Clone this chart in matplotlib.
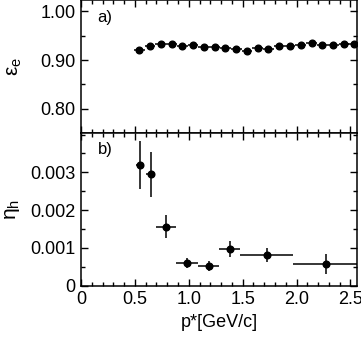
import matplotlib
matplotlib.use("Agg")
import matplotlib.pyplot as plt
from matplotlib.ticker import MultipleLocator, FixedLocator, FuncFormatter

plt.rcParams["font.family"] = ["Liberation Sans", "DejaVu Sans"]
plt.rcParams["font.size"] = 13
plt.rcParams["mathtext.fontset"] = "custom"
plt.rcParams["mathtext.rm"] = "Liberation Sans"
plt.rcParams["mathtext.it"] = "Liberation Sans"

# a) electron efficiency vs p*
p_eff = [0.54, 0.64, 0.74, 0.84, 0.94, 1.04, 1.14, 1.24, 1.34, 1.44, 1.54,
         1.64, 1.74, 1.84, 1.94, 2.04, 2.14, 2.24, 2.34, 2.44, 2.53]
eff = [0.921, 0.929, 0.932, 0.932, 0.928, 0.931, 0.926, 0.926, 0.924, 0.922, 0.919,
       0.924, 0.922, 0.928, 0.928, 0.931, 0.935, 0.931, 0.930, 0.934, 0.932]
eff_xerr = 0.05
eff_yerr = 0.002

# b) hadron misid rate vs p*
p_mis = [0.545, 0.645, 0.79, 0.985, 1.185, 1.38, 1.73, 2.27]
p_lo = [0.51, 0.60, 0.70, 0.885, 1.09, 1.28, 1.48, 1.97]
p_hi = [0.58, 0.69, 0.885, 1.09, 1.28, 1.48, 1.97, 2.60]
mis = [0.00319, 0.00295, 0.00156, 0.00059, 0.00053, 0.00097, 0.00082, 0.00057]
mis_lo = [0.00255, 0.00235, 0.00127, 0.00046, 0.00040, 0.00075, 0.00062, 0.00030]
mis_hi = [0.00382, 0.00353, 0.00186, 0.00072, 0.00066, 0.00118, 0.00101, 0.00083]

eff_ticks = [0.80, 0.90, 1.00]
mis_ticks = [0, 0.001, 0.002, 0.003]
p_ticks = [0, 0.5, 1.0, 1.5, 2.0, 2.5]

fig = plt.figure(figsize=(3.61, 3.46), dpi=100)
ax1 = fig.add_axes([0.2244, 0.6156, 0.7656, 0.3830])
ax2 = fig.add_axes([0.2244, 0.1743, 0.7656, 0.4413])

ax1.errorbar(p_eff, eff, xerr=eff_xerr, yerr=eff_yerr, fmt="o", color="black",
             ms=4.8, elinewidth=1.1, capsize=0)
ax1.set_xlim(0, 2.565)
ax1.set_ylim(0.75, 1.0225)
ax1.yaxis.set_major_locator(FixedLocator(eff_ticks))
ax1.yaxis.set_minor_locator(MultipleLocator(0.05))
ax1.yaxis.set_major_formatter(FuncFormatter(lambda v, pos: "%.2f" % v))
ax1.set_ylabel(r"$\mathrm{\varepsilon_e}$", fontsize=15, labelpad=12)
ax1.text(0.06, 0.84, "a)", transform=ax1.transAxes, fontsize=12)
ax1.tick_params(labelbottom=False)

xerr_lo = [m - l for m, l in zip(p_mis, p_lo)]
xerr_hi = [h - m for m, h in zip(p_mis, p_hi)]
yerr_lo = [m - l for m, l in zip(mis, mis_lo)]
yerr_hi = [h - m for m, h in zip(mis, mis_hi)]
ax2.errorbar(p_mis, mis, xerr=[xerr_lo, xerr_hi], yerr=[yerr_lo, yerr_hi], fmt="o",
             color="black", ms=4.8, elinewidth=1.1, capsize=0)
ax2.set_xlim(0, 2.565)
ax2.set_ylim(0, 0.00404)
ax2.yaxis.set_major_locator(FixedLocator(mis_ticks))
ax2.yaxis.set_minor_locator(MultipleLocator(0.0005))
ax2.yaxis.set_major_formatter(FuncFormatter(lambda v, pos: "0" if abs(v) < 1e-9 else "%.3f" % v))
ax2.set_ylabel(r"$\mathrm{\eta_h}$", fontsize=15, labelpad=6)
ax2.set_xlabel("p*[GeV/c]", labelpad=4)
ax2.text(0.06, 0.86, "b)", transform=ax2.transAxes, fontsize=12)

for ax in (ax1, ax2):
    ax.xaxis.set_major_locator(FixedLocator(p_ticks))
    ax.xaxis.set_minor_locator(MultipleLocator(0.1))
    ax.xaxis.set_major_formatter(FuncFormatter(lambda v, pos: "0" if abs(v) < 1e-9 else "%.1f" % v))
    ax.tick_params(which="both", direction="in", top=True, right=True, width=1)
    ax.tick_params(which="major", length=5, pad=4)
    ax.tick_params(which="minor", length=3)
    for s in ax.spines.values():
        s.set_linewidth(1.1)

fig.savefig("out.png", dpi=100)
